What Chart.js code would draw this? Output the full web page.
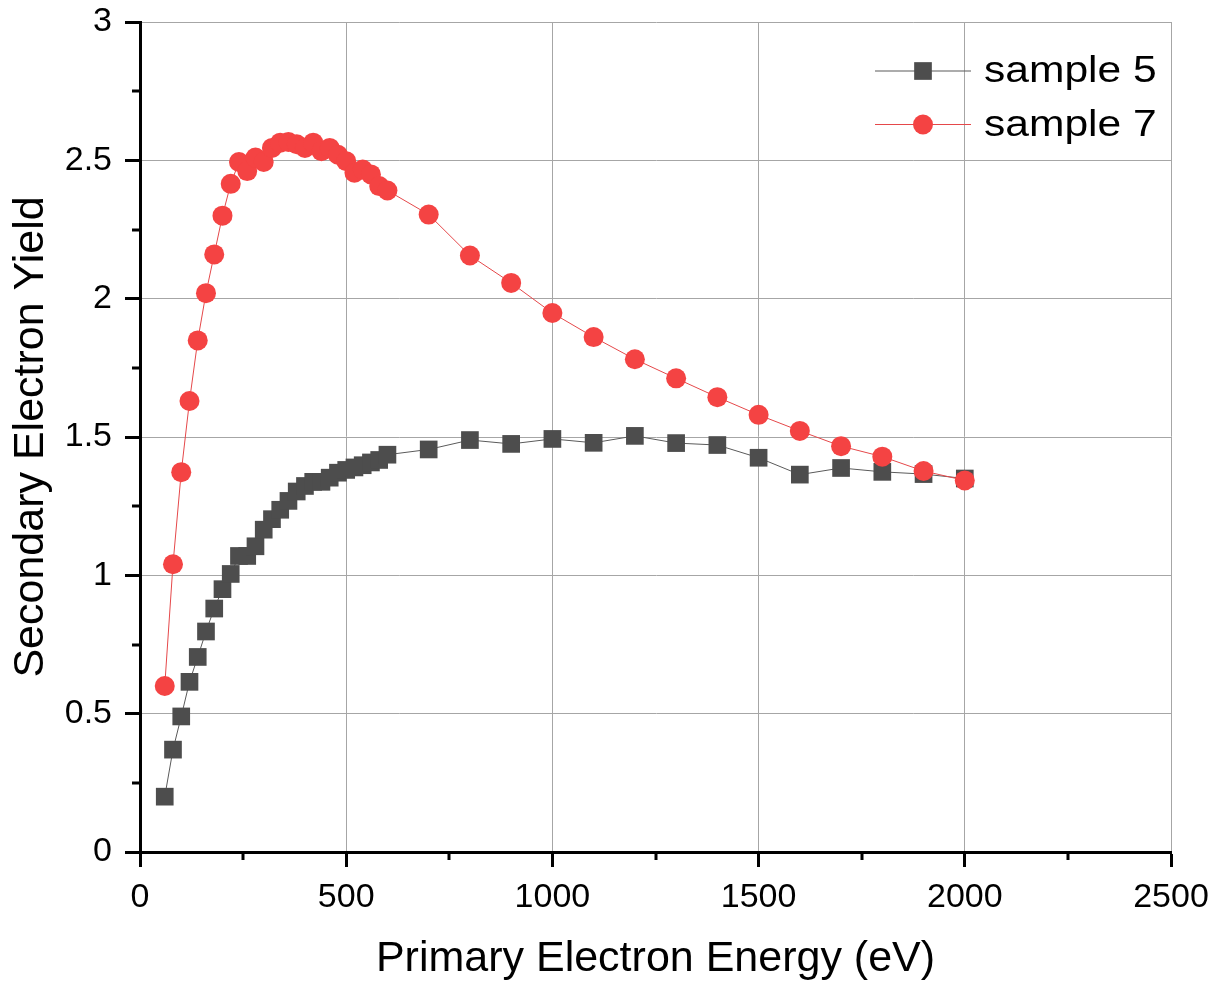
<!DOCTYPE html>
<html>
<head>
<meta charset="utf-8">
<script src="https://cdn.jsdelivr.net/npm/chart.js@4.4.0/dist/chart.umd.min.js"></script>
<style>
html,body{margin:0;padding:0;background:#ffffff;}
#wrap{width:1221px;height:982px;position:relative;}
</style>
</head>
<body>
<div id="wrap"><canvas id="c" width="1221" height="982"></canvas></div>
<script>
// ---- data ----
const energies = [60,80,100,120,140,160,180,200,220,240,260,280,300,320,340,360,380,400,420,440,460,480,500,520,540,560,580,600,700,800,900,1000,1100,1200,1300,1400,1500,1600,1700,1800,1900,2000];
const sample5 = [0.20,0.37,0.49,0.615,0.705,0.797,0.88,0.95,1.005,1.07,1.07,1.105,1.165,1.203,1.237,1.269,1.303,1.323,1.338,1.338,1.353,1.371,1.381,1.39,1.398,1.408,1.417,1.436,1.455,1.489,1.475,1.493,1.479,1.504,1.478,1.471,1.425,1.364,1.388,1.374,1.366,1.35];
const sample7 = [0.60,1.04,1.373,1.63,1.849,2.02,2.16,2.30,2.415,2.494,2.461,2.51,2.494,2.545,2.564,2.566,2.558,2.545,2.564,2.533,2.545,2.52,2.497,2.455,2.467,2.449,2.407,2.391,2.304,2.156,2.057,1.948,1.861,1.781,1.712,1.644,1.58,1.522,1.467,1.429,1.377,1.343];
const seriesNames = ['sample 5','sample 7'];
const xTickValues = [0,500,1000,1500,2000,2500];
const xTickLabels = ['0','500','1000','1500','2000','2500'];
const xMinorTicks = [250,750,1250,1750,2250];
const yTickValues = [0,0.5,1,1.5,2,2.5,3];
const yTickLabels = ['0','0.5','1','1.5','2','2.5','3'];
const yMinorTicks = [0.25,0.75,1.25,1.75,2.25,2.75];
const xTitle = 'Primary Electron Energy (eV)';
const yTitle = 'Secondary Electron Yield';

// ---- styles ----
const FONT = '"Liberation Sans", Arial, sans-serif';
const GRID = '#a6a6a6';
const DARK = '#4d4d4d';
const RED = '#f44343';

function toPoints(xs, ys){ return xs.map((x,i)=>({x:x, y:ys[i]})); }

const minorTickPlugin = {
  id: 'minorTicks',
  afterDraw(chart){
    const ctx = chart.ctx, xs = chart.scales.x, ys = chart.scales.y, ca = chart.chartArea;
    ctx.save();
    ctx.strokeStyle = '#000';
    ctx.lineWidth = 3;
    ctx.beginPath();
    xMinorTicks.forEach(v=>{
      const px = Math.round(xs.getPixelForValue(v));
      ctx.moveTo(px, ca.bottom); ctx.lineTo(px, ca.bottom + 8);
    });
    yMinorTicks.forEach(v=>{
      const py = Math.round(ys.getPixelForValue(v));
      ctx.moveTo(ca.left, py); ctx.lineTo(ca.left - 8, py);
    });
    ctx.stroke();
    ctx.restore();
  }
};

const legendPlugin = {
  id: 'originLegend',
  afterDraw(chart){
    const ctx = chart.ctx, ca = chart.chartArea;
    ctx.save();
    chart.data.datasets.forEach((ds,i)=>{
      const y = ca.top + 49 + i*53.5;
      const xl = ca.right - 296, xr = ca.right - 200, xm = ca.right - 248;
      ctx.strokeStyle = ds.borderColor; ctx.lineWidth = 1.2;
      ctx.beginPath(); ctx.moveTo(xl, y); ctx.lineTo(xr, y); ctx.stroke();
      ctx.fillStyle = ds.pointBackgroundColor;
      if (ds.pointStyle === 'rect'){
        const s = ds.pointRadius * Math.SQRT1_2;
        ctx.fillRect(xm - s, y - s, 2*s, 2*s);
      } else {
        ctx.beginPath(); ctx.arc(xm, y, ds.pointRadius, 0, Math.PI*2); ctx.fill();
      }
      ctx.save();
      ctx.translate(ca.right - 187, y);
      ctx.scale(1.15, 1);
      ctx.fillStyle = '#000';
      ctx.font = '37px ' + FONT;
      ctx.textBaseline = 'middle';
      ctx.textAlign = 'left';
      ctx.fillText(ds.label, 0, 1);
      ctx.restore();
    });
    ctx.restore();
  }
};

new Chart(document.getElementById('c'), {
  type: 'line',
  data: {
    datasets: [
      {
        label: seriesNames[0],
        data: toPoints(energies, sample5),
        borderColor: '#5a5a5a',
        borderWidth: 1,
        pointStyle: 'rect',
        pointRadius: 12.5,
        pointBackgroundColor: DARK,
        pointBorderWidth: 0,
        tension: 0,
        order: 1
      },
      {
        label: seriesNames[1],
        data: toPoints(energies, sample7),
        borderColor: '#e5484a',
        borderWidth: 1,
        pointStyle: 'circle',
        pointRadius: 10,
        pointBackgroundColor: RED,
        pointBorderWidth: 0,
        tension: 0,
        order: 0
      }
    ]
  },
  options: {
    responsive: false,
    devicePixelRatio: 1,
    animation: false,
    events: [],
    layout: { padding: { top: 22, right: 50, left: 0, bottom: 0 } },
    plugins: { legend: { display: false }, tooltip: { enabled: false } },
    scales: {
      x: {
        type: 'linear',
        min: 0, max: 2500,
        afterBuildTicks: s => { s.ticks = xTickValues.map(v=>({value:v})); },
        afterFit: s => { s.height = 130; },
        ticks: {
          color: '#000',
          font: { family: FONT, size: 34 },
          padding: 10,
          maxRotation: 0,
          callback: v => { const i = xTickValues.indexOf(v); return i >= 0 ? xTickLabels[i] : ''; }
        },
        grid: { color: GRID, lineWidth: 1, tickColor: '#000', tickWidth: 3, tickLength: 15 },
        border: { color: '#000', width: 3 },
        title: { display: true, text: xTitle, color: '#000', font: { family: FONT, size: 43, lineHeight: 1 }, padding: { top: 0, bottom: 1 } }
      },
      y: {
        type: 'linear',
        min: 0, max: 3,
        afterBuildTicks: s => { s.ticks = yTickValues.map(v=>({value:v})); },
        afterFit: s => { s.width = 140; },
        ticks: {
          color: '#000',
          font: { family: FONT, size: 34, lineHeight: 0.5 },
          padding: 13,
          callback: v => { const i = yTickValues.indexOf(v); return i >= 0 ? yTickLabels[i] : ''; }
        },
        grid: { color: GRID, lineWidth: 1, tickColor: '#000', tickWidth: 3, tickLength: 15 },
        border: { color: '#000', width: 3 },
        title: { display: true, text: yTitle, color: '#000', font: { family: FONT, size: 43, lineHeight: 1 }, padding: { top: 10, bottom: 0 } }
      }
    }
  },
  plugins: [minorTickPlugin, legendPlugin]
});
</script>
</body>
</html>
